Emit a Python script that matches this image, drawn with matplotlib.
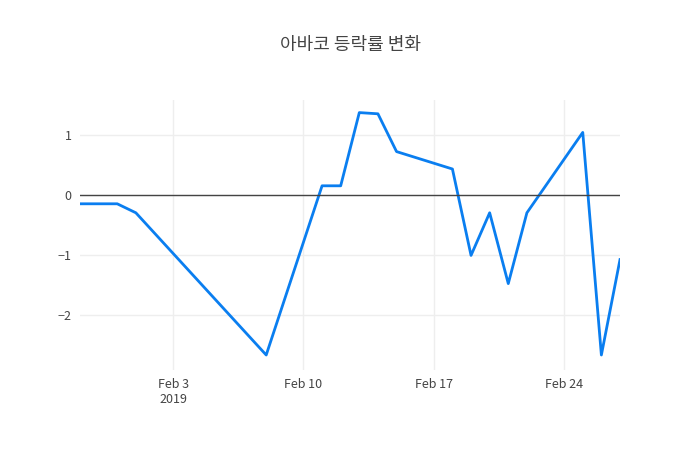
import matplotlib
matplotlib.use("Agg")
import matplotlib.pyplot as plt
import matplotlib.dates as mdates
import pandas as pd

plt.rcParams['font.family'] = ['Noto Sans CJK KR', 'DejaVu Sans']

dates = ["2019-01-29","2019-01-31","2019-02-01","2019-02-08","2019-02-11","2019-02-12",
         "2019-02-13","2019-02-14","2019-02-15","2019-02-18","2019-02-19","2019-02-20",
         "2019-02-21","2019-02-22","2019-02-25","2019-02-26","2019-02-27"]
values = [-0.15,-0.15,-0.3,-2.67,0.15,0.15,1.37,1.35,0.72,0.43,-1.01,-0.3,-1.48,-0.3,1.04,-2.67,-1.08]
title = "아바코 등락률 변화"

x = pd.to_datetime(dates)
fig = plt.figure(figsize=(7, 4.5), dpi=100)
ax = fig.add_axes([80/700, 1-370/450, 540/700, 270/450])
ax.plot(x, values, color='#0a7ef0', lw=2)
ax.axhline(0, color='#444', lw=1)
ax.set_xlim(x[0], x[-1])
ax.set_ylim(-2.92, 1.58)
ax.set_yticks([-2, -1, 0, 1])
ax.set_yticklabels(['−2', '−1', '0', '1'])
ticks = pd.to_datetime(["2019-02-03","2019-02-10","2019-02-17","2019-02-24"])
ax.set_xticks(ticks)
ax.set_xticklabels(["Feb 3\n2019","Feb 10","Feb 17","Feb 24"])
ax.grid(color='#eeeeee', lw=1)
ax.set_axisbelow(True)
for s in ax.spines.values():
    s.set_visible(False)
ax.tick_params(length=0, labelsize=9, colors='#444', pad=6)
fig.text(0.5, 1-45/450, title, ha='center', va='center', fontsize=13, color='#444')
fig.savefig("out.png")
